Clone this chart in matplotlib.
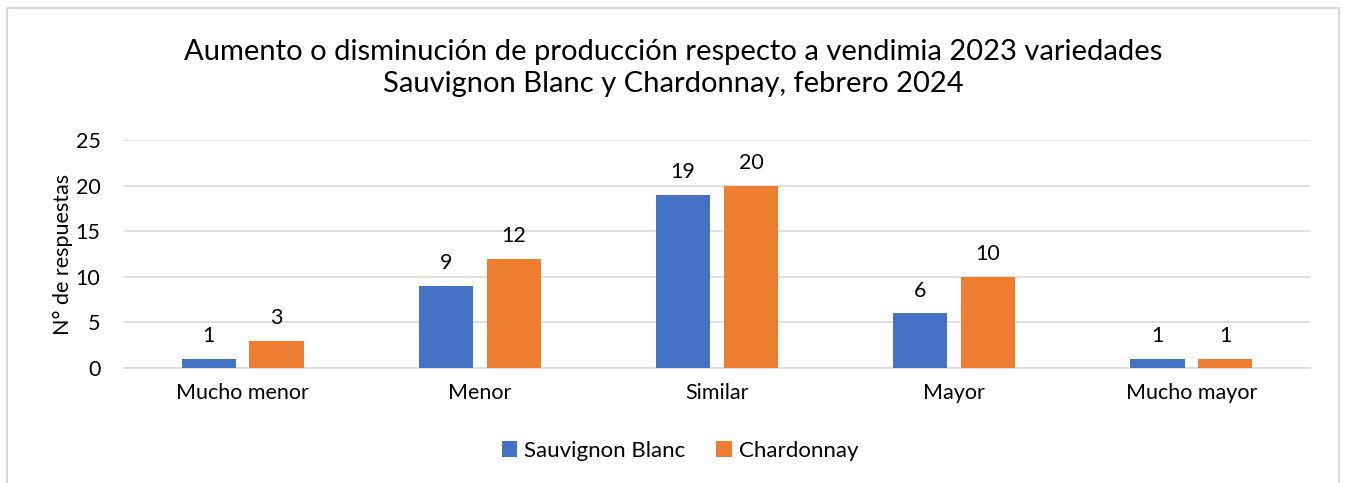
import numpy as np
import matplotlib.pyplot as plt
from matplotlib.patches import Rectangle

categories = ['Mucho menor', 'Menor', 'Similar', 'Mayor', 'Mucho mayor']
sauvignon = [1, 9, 19, 6, 1]
chardonnay = [3, 12, 20, 10, 1]
series_names = ['Sauvignon Blanc', 'Chardonnay']
yticks = [0, 5, 10, 15, 20, 25]

plt.rcParams['font.family'] = ['Lato', 'DejaVu Sans']

fig = plt.figure(figsize=(13.46, 4.83), dpi=100)
ax = fig.add_axes([124/1346, 1 - 368/483, (1310 - 124)/1346, (368 - 140)/483])

x = np.arange(len(categories))
w = 0.228
off = 0.143
b1 = ax.bar(x - off, sauvignon, w, color='#4472C4', label=series_names[0], zorder=3)
b2 = ax.bar(x + off, chardonnay, w, color='#ED7D31', label=series_names[1], zorder=3)

for bars in (b1, b2):
    for r in bars:
        ax.annotate(str(int(r.get_height())), (r.get_x() + r.get_width()/2, r.get_height()),
                    xytext=(0, 9), textcoords='offset points', ha='center', va='bottom',
                    fontsize=15.5, color='black')

ax.set_xlim(-0.5, len(categories) - 0.5)
ax.set_ylim(0, 25)
ax.set_yticks(yticks)
ax.set_xticks(x)
ax.set_xticklabels(categories)
ax.tick_params(axis='both', length=0, labelsize=15.5, colors='black')
ax.tick_params(axis='x', pad=11)
ax.tick_params(axis='y', pad=17)
ax.grid(axis='y', color='#D9D9D9', linewidth=1.2, zorder=0)
for s in ['top', 'right', 'left']:
    ax.spines[s].set_visible(False)
ax.spines['bottom'].set_color('#D9D9D9')
ax.spines['bottom'].set_linewidth(1.2)
ax.set_ylabel('N° de respuestas', fontsize=15.5, labelpad=2)

fig.text(0.5, 1 - 68/483,
         'Aumento o disminución de producción respecto a vendimia 2023 variedades\n'
         'Sauvignon Blanc y Chardonnay, febrero 2024',
         ha='center', va='center', fontsize=21, linespacing=1.3)

fig.legend(handles=[b1, b2], labels=series_names, loc='center', bbox_to_anchor=(680/1346, 1 - 451/483),
           ncol=2, frameon=False, fontsize=16, handlelength=0.7, handleheight=0.7,
           handletextpad=0.3, columnspacing=1.4)

fig.patches.append(Rectangle((7/1346, -0.05), (1339 - 7)/1346, 1.05 - 8/483,
                             transform=fig.transFigure, fill=False,
                             edgecolor='#D9D9D9', linewidth=1.5))

fig.savefig('out.png', dpi=100)
